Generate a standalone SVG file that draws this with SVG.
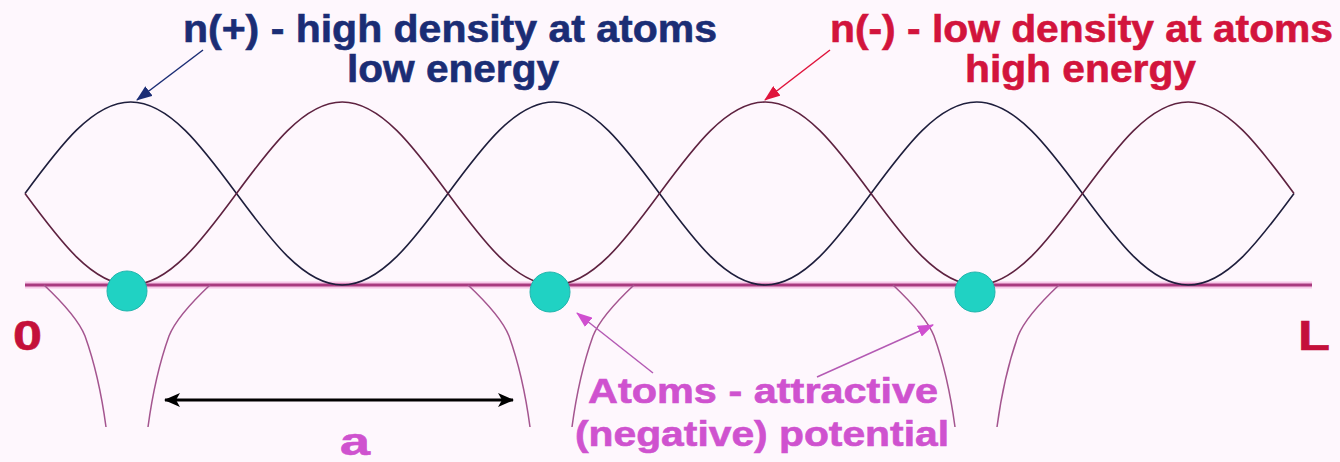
<svg xmlns="http://www.w3.org/2000/svg" width="1340" height="462" viewBox="0 0 1340 462">
<style>
.t{font-family:"Liberation Sans",Arial,sans-serif;font-weight:bold;stroke-width:0.6}
.navy{fill:#1b2d75;stroke:#1b2d75}
.red{fill:#d2143c;stroke:#d2143c}
.dred{fill:#c4103a;stroke:#c4103a}
.mag{fill:#cf52cf;stroke:#cf52cf}
.wave{fill:none;stroke-width:1.6}
.well{fill:none;stroke:#a4558f;stroke-width:1.5}
.atom{fill:#20d2c3;stroke:#22b5ad;stroke-width:1}
</style>
<defs>
<marker id="hNavy" markerWidth="16" markerHeight="12" refX="15" refY="6" orient="auto" markerUnits="userSpaceOnUse"><path d="M0,0 L16,6 L0,12 z" fill="#1b2d75"/></marker>
<marker id="hRed" markerWidth="16" markerHeight="12" refX="15" refY="6" orient="auto" markerUnits="userSpaceOnUse"><path d="M0,0 L16,6 L0,12 z" fill="#e0143c"/></marker>
<marker id="hMag" markerWidth="16" markerHeight="12" refX="15" refY="6" orient="auto" markerUnits="userSpaceOnUse"><path d="M0,0 L16,6 L0,12 z" fill="#d04fd0"/></marker>
<marker id="hBlk" markerWidth="16" markerHeight="14" refX="15" refY="7" orient="auto-start-reverse" markerUnits="userSpaceOnUse"><path d="M0,0 L16,7 L0,14 L4,7 z" fill="#000"/></marker>
<path id="wellShape" d="M-83,285 Q-50,316 -42,336 Q-28,375 -21,427 M83,285 Q50,316 42,336 Q28,375 21,427"/>
</defs>
<rect x="0" y="0" width="1340" height="462" fill="#fef7fd"/>

<g id="baseline">
<line x1="25" y1="285" x2="1312" y2="285" stroke="#f7c8e8" stroke-width="7"/>
<line x1="25" y1="285" x2="1312" y2="285" stroke="#a93a7f" stroke-width="3"/>
</g>

<g id="waves">
<path id="n-plus" class="wave" stroke="#1e1e3c" d="M25,193.5 C59.49,146.63 92.47,102 130.75,102 C207.61,102 265.39,285 342.25,285 S476.89,102 553.75,102 S688.39,285 765.25,285 S899.89,102 976.75,102 S1111.39,285 1188.25,285 C1226.53,285 1259.51,240.37 1294,193.5"/>
<path id="n-minus" class="wave" stroke="#5e2240" d="M25,193.5 C59.49,240.37 92.47,285 130.75,285 C207.61,285 265.39,102 342.25,102 S476.89,285 553.75,285 S688.39,102 765.25,102 S899.89,285 976.75,285 S1111.39,102 1188.25,102 C1226.53,102 1259.51,146.63 1294,193.5"/>
</g>

<g id="wells">
<use href="#wellShape" class="well" transform="translate(127,0)"/>
<use href="#wellShape" class="well" transform="translate(551,0)"/>
<use href="#wellShape" class="well" transform="translate(976,0)"/>
</g>

<g id="atom1"><circle class="atom" cx="127" cy="291" r="20"/></g>
<g id="atom2"><circle class="atom" cx="550" cy="292" r="20"/></g>
<g id="atom3"><circle class="atom" cx="975" cy="292" r="20"/></g>

<g id="label-nplus">
<text class="t navy" x="183" y="42" font-size="38" textLength="534" lengthAdjust="spacingAndGlyphs">n(+) - high density at atoms</text>
<text class="t navy" x="347" y="82" font-size="38" textLength="212" lengthAdjust="spacingAndGlyphs">low energy</text>
</g>
<g id="label-nminus">
<text class="t red" x="830" y="42" font-size="38" textLength="503" lengthAdjust="spacingAndGlyphs">n(-) - low density at atoms</text>
<text class="t red" x="965" y="82" font-size="38" textLength="231" lengthAdjust="spacingAndGlyphs">high energy</text>
</g>
<g id="label-atoms">
<text class="t mag" x="588" y="403" font-size="35" textLength="350" lengthAdjust="spacingAndGlyphs">Atoms - attractive</text>
<text class="t mag" x="575" y="446" font-size="35" textLength="374" lengthAdjust="spacingAndGlyphs">(negative) potential</text>
</g>
<g id="label-0"><text class="t dred" x="13" y="350" font-size="42" textLength="29" lengthAdjust="spacingAndGlyphs">0</text></g>
<g id="label-L"><text class="t dred" x="1298" y="350" font-size="42" textLength="32" lengthAdjust="spacingAndGlyphs">L</text></g>
<g id="label-a"><text class="t mag" x="340" y="455" font-size="38" textLength="30" lengthAdjust="spacingAndGlyphs">a</text></g>

<g id="connectors">
<line x1="203" y1="50" x2="137" y2="100" stroke="#1b2d75" stroke-width="1.5" marker-end="url(#hNavy)"/>
<line x1="830" y1="50" x2="765" y2="100" stroke="#e0143c" stroke-width="1.5" marker-end="url(#hRed)"/>
<line x1="653" y1="373" x2="577" y2="313" stroke="#b45ab4" stroke-width="1.5" marker-end="url(#hMag)"/>
<line x1="817" y1="377" x2="933" y2="325" stroke="#b45ab4" stroke-width="1.5" marker-end="url(#hMag)"/>
<line x1="165" y1="400" x2="513" y2="400" stroke="#000" stroke-width="3" marker-start="url(#hBlk)" marker-end="url(#hBlk)"/>
</g>
</svg>
